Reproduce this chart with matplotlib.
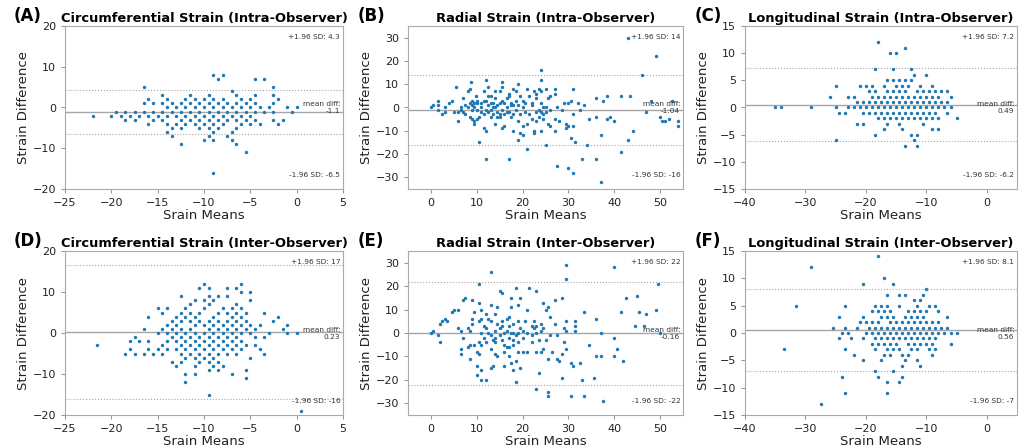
import numpy as np
import matplotlib.pyplot as plt

# each entry: (strain mean, [strain differences at that mean])
circ_intra_cols = [
    (-22, [-2]), (-20, [-2]), (-19.5, [-1]), (-19, [-2]), (-18.5, [-1, -3]),
    (-18, [-2]), (-17.5, [-1, -3]), (-17, [-2]), (-16.5, [5, 1, -1]),
    (-16, [2, -2, -4]), (-15.5, [1, -1, -3]), (-15, [-2]),
    (-14.5, [3, 1, -1, -3]), (-14, [2, 0, -2, -4, -6]), (-13.5, [1, -1, -5, -7]),
    (-13, [0, -2, -4]), (-12.5, [1, -1, -3, -5, -9]), (-12, [2, 0, -2, -4]),
    (-11.5, [3, 1, -1, -3]), (-11, [2, 0, -2, -4]), (-10.5, [1, -1, -3, -5]),
    (-10, [2, 0, -2, -4, -8]), (-9.5, [3, 1, -1, -3, -5, -7]),
    (-9, [8, 2, 0, -2, -4, -6, -8, -16]), (-8.5, [7, 1, -1, -3, -5]),
    (-8, [8, 2, 0, -2, -4]), (-7.5, [1, -1, -3, -7]), (-7, [4, 0, -2, -6, -8]),
    (-6.5, [3, 1, -1, -3, -5, -9]), (-6, [2, 0, -2, -4]), (-5.5, [1, -1, -3, -11]),
    (-5, [2, 0, -2, -4]), (-4.5, [7, 3, 1, -1, -3]), (-4, [0, -4]),
    (-3.5, [7, -1]), (-3, [0]), (-2.5, [5, 3, 1, -1, -3]), (-2, [2, -4]),
    (-1.5, [-3]), (-1, [0]), (-0.5, [-1]), (0, [0]),
]

rad_intra_cols = [
    (0, [0]), (0.5, [1]), (1.5, [3, 1, -1]), (2.5, [-3]), (3, [0, -2]), (4, [2]),
    (4.5, [3]), (5, [-2]), (5.5, [9]), (6, [-2, -6]), (6.5, [0, -1]), (7, [4, -2]),
    (7.5, [-3, 1]), (8, [7, 0]), (8.5, [8, -4, 2]), (8.8, [11]), (9, [3, 1, -1, -5]),
    (9.5, [-6, -7, 0, 2]), (9.8, [5]), (10, [2, -1, 3, -5]), (10.5, [-15, -4]),
    (11, [0, 2, -2]), (11.5, [-9, 7, -3, 3]), (12, [12, -10, -22, 3, -1]),
    (12.5, [9, -2, 1, 5]), (13, [5, -4, -1, 2]), (13.5, [2, -3, 0]),
    (14, [4, -7, 0, 7]), (14.5, [-2, 1, -4]), (15, [7, -3, -4, 2]),
    (15.5, [11, 9, -9, 3, -1]), (16, [-8, 2, -3]), (16.5, [4, 0, -2]),
    (17, [5, 6, -22, -2]), (17.5, [2, -4, 1]), (18, [8, -10, 1, -3]),
    (18.5, [3, -1, 7]), (19, [-6, 10, -14, 1]), (19.5, [5, -11, -3]),
    (20, [-12, -8, 3, 0]), (20.5, [2, -2]), (21, [-18, 8, -7]), (21.5, [-3, 5]),
    (22, [1, -5, 2]), (22.5, [7, -10, -11]), (23, [4, -2, -6, 6]), (23.5, [8, -1, -4]),
    (24, [16, 12, 7, -10, 2, -2]), (24.5, [-3, -5, 0]), (25, [8, -16, 0, -2]),
    (25.5, [4, -7]), (26, [5, -8, -1]), (27, [8, 6, -10, -5]), (27.5, [-25, 0]),
    (28, [-6]), (28.5, [-1]), (29, [2]), (29.5, [-7, -9]), (30, [-8, -26, 2]),
    (30.5, [-13, 3]), (31, [-28, -3, -8, 8]), (31.5, [-15]), (32, [2]), (32.5, [-1]),
    (33, [-22]), (33.5, [1]), (34, [-16]), (34.5, [-5]), (36, [4, -4, -22]),
    (37, [-32, -12]), (37.5, [3]), (38.5, [5, -5]), (39, [-4]), (40, [-6]),
    (41.5, [5, -19]), (43, [30, -14]), (43.5, [5]), (44, [-10]), (46, [14]),
    (47, [-2]), (48, [3]), (49, [22]), (50, [-4]), (50.5, [-6]), (51, [-6]),
    (52, [-5]), (52.5, [3]), (54, [-6, -8]),
]

long_intra_cols = [
    (-35, [0]), (-34, [0]), (-29, [0]), (-26, [2]), (-25, [4, 0, -6]), (-24.5, [-1]),
    (-23.5, [-1]), (-23, [2, 0]), (-22, [2, 0]), (-21.5, [1, -3]), (-21, [4, 0]),
    (-20.5, [1, -1, -3]), (-20, [4, 0]), (-19.5, [3, 1, -1]), (-19, [4, 2, 0]),
    (-18.5, [7, 3, 1, -1, -5]), (-18, [12, 2, 0, -2]), (-17.5, [1, -1]),
    (-17, [4, 2, 0, -2, -4]), (-16.5, [5, 3, 1, -1, -3]), (-16, [10, 2, 0, -2]),
    (-15.5, [7, 5, 3, 1, -1]), (-15, [10, 4, 2, 0, -2]), (-14.5, [5, 3, 1, -1, -3]),
    (-14, [4, 2, 0, -2, -4]), (-13.5, [11, 5, 3, 1, -1, -7]), (-13, [4, 2, 0, -2]),
    (-12.5, [7, 5, 1, -1, -5]), (-12, [6, 2, 0, -2, -6]), (-11.5, [3, 1, -1, -5, -7]),
    (-11, [4, 2, 0, -2]), (-10.5, [3, 1, -1, -3]), (-10, [6, 2, 0, -2]),
    (-9.5, [3, 1, -1]), (-9, [4, 2, 0, -2, -4]), (-8.5, [3, 1, -1]),
    (-8, [2, 0, -2, -4]), (-7.5, [3, 1]), (-7, [0]), (-6.5, [3, 1, -1]),
    (-6, [2, 0]), (-5, [-2]),
]

circ_inter_cols = [
    (-21.5, [-3]), (-18.5, [-5]), (-18, [-2, -4]), (-17.5, [-1, -5]), (-17, [-2]),
    (-16.5, [1, -5]), (-16, [4, -2, -4]), (-15.5, [-5]), (-15, [6, 0, -4]),
    (-14.5, [5, 1, -3, -5]), (-14, [6, 2, 0, -2, -4]), (-13.5, [3, 1, -1, -7]),
    (-13, [4, 2, 0, -2, -4, -8]), (-12.5, [9, 5, 3, 1, -1, -3, -5, -7]),
    (-12, [6, 4, 0, -2, -4, -6, -10, -12]), (-11.5, [7, 5, 3, 1, -1, -3, -5]),
    (-11, [8, 4, 2, 0, -2, -4, -6, -8, -10]), (-10.5, [11, 5, 3, -1, -3, -5, -7]),
    (-10, [12, 8, 6, 2, 0, -2, -4, -6]),
    (-9.5, [11, 9, 7, 3, 1, -1, -3, -5, -7, -9, -15]),
    (-9, [8, 4, 2, 0, -2, -4, -6, -8]), (-8.5, [9, 5, 3, 1, -1, -3, -5, -7, -9]),
    (-8, [6, 2, 0, -2, -4, -8]), (-7.5, [11, 9, 5, 3, 1, -1, -3, -5]),
    (-7, [6, 4, 2, 0, -2, -4, -10]), (-6.5, [11, 7, 5, 3, 1, -1, -3, -5]),
    (-6, [12, 10, 6, 4, 2, 0, -2, -4]), (-5.5, [5, 3, 1, -3, -9, -11]),
    (-5, [10, 8, 2, 0, -6]), (-4.5, [1, -1, -3]), (-4, [2, -4]), (-3.5, [5, -1, -5]),
    (-3, [0]), (-2.5, [3]), (-2, [4]), (-1.5, [1]), (-1, [2, 0]), (0, [0]), (0.5, [-19]),
]

rad_inter_cols = [
    (0, [0]), (0.5, [1]), (1.5, [-1]), (2, [-4, 4]), (2.5, [5]), (3, [6]), (3.5, [5]),
    (4.5, [9]), (5, [10]), (6, [10, 2]), (6.5, [1, -7, -9]), (7, [-2, 14]), (7.5, [15]),
    (8, [2, -6]), (8.5, [1, -5, -11]), (9, [14, 4, 6]), (9.5, [-5, 9]),
    (10, [-8, -14, -18]), (10.5, [13, 21, 5, -4, -9]), (11, [10, 6, 0, -5, -16, -20]),
    (11.5, [3, -2]), (12, [8, -4, -20, 2]), (12.5, [6, 0]),
    (13, [12, 26, -15, -7, -1, 5]), (13.5, [-3, -14]), (14, [1, 8, -4, -9, -2]),
    (14.5, [11, 4, -10]), (15, [-1, 18, 2]), (15.5, [17, 3, -3, 5]),
    (16, [-5, -14, 0, -8]), (16.5, [6, 1, -6]), (17, [7, -2, -10, 3, -6]),
    (17.5, [15, -13, 11, 0]), (18, [-16, -5, 4, -3, 0]), (18.5, [19, -1, -21, -12]),
    (19, [12, -8, 5, -4, 0]), (19.5, [15, -15, 2]), (20, [-8, -2, 1]), (20.5, [5]),
    (21, [10, 0, -8]), (21.5, [19]), (22, [-4, 3, -1]), (22.5, [2, 5]),
    (23, [18, -8, -24, 3, 0]), (23.5, [-17, -3]), (24, [-8, 1, 4]), (24.5, [13, -7, 2]),
    (25, [10, -3]), (25.5, [-25, -27, 11, -11]), (26, [7, -1]), (26.5, [-8]),
    (27, [14, 4]), (27.5, [-11, -1]), (28, [-12]), (28.5, [15, -9, -19]), (29, [-4, 2]),
    (29.5, [29, 23, 5, -7, 1]), (30.5, [-13, -27]), (31, [-14]), (31.5, [5, 3, 1]),
    (32.5, [-13]), (33, [-20]), (33.5, [9, -27]), (34.5, [-5]), (35.5, [-19]),
    (36, [6, -10]), (37, [0, -10]), (37.5, [-29]), (40, [28, -2, -10]), (40.5, [-7]),
    (41.5, [9]), (42, [-12]), (42.5, [15]), (44.5, [3]), (45, [16]), (45.5, [9]),
    (46.5, [3]), (47, [8]), (49, [10]), (49.5, [21]), (50, [0]),
]

long_inter_cols = [
    (-33.5, [-3]), (-31.5, [5]), (-29, [12]), (-27.5, [-13]), (-25.5, [1]),
    (-24.5, [3, -1]), (-24, [0, -8]), (-23.5, [5, 1, -3, -11]), (-23, [0]),
    (-22.5, [-1]), (-22, [-4]), (-21.5, [1]), (-21, [2]), (-20.5, [9, 3, -1, -5]),
    (-20, [2, 0]), (-19.5, [1]), (-19, [4, 2, 0, -2]), (-18.5, [5, 1, -1, -3, -7]),
    (-18, [14, 4, 2, 0, -2, -8]), (-17.5, [5, 3, 1, -1, -5]), (-17, [10, 4, 0, -2, -4]),
    (-16.5, [7, 5, 3, 1, -1, -3, -9, -11]), (-16, [4, 2, 0, -2, -4]),
    (-15.5, [9, 3, 1, -1, -3, -7]), (-15, [2, 0, -2]), (-14.5, [7, 5, 1, -1, -3, -9]),
    (-14, [2, 0, -4, -6, -8]), (-13.5, [7, 3, 1, -1, -5]), (-13, [4, 2, 0, -2, -4]),
    (-12.5, [3, 1, -1, -3]), (-12, [6, 4, 2, 0, -2]), (-11.5, [5, 3, 1, -1, -3, -5]),
    (-11, [6, 4, 2, 0, -2, -6]), (-10.5, [7, 3, 1, -1]), (-10, [8, 4, 2, 0, -2]),
    (-9.5, [5, 1, -1, -3]), (-9, [2, 0, -2, -4]), (-8.5, [5, 1, -1, -3]),
    (-8, [4, 2, 0]), (-7.5, [1]), (-7, [0]), (-6.5, [3, 1]), (-6, [0, -2]), (-5, [0]),
]

titles = ['Circumferential Strain (Intra-Observer)', 'Radial Strain (Intra-Observer)',
          'Longitudinal Strain (Intra-Observer)', 'Circumferential Strain (Inter-Observer)',
          'Radial Strain (Inter-Observer)', 'Longitudinal Strain (Inter-Observer)']
letters = ['(A)', '(B)', '(C)', '(D)', '(E)', '(F)']
mean_diffs = [-1.1, -1.04, 0.49, 0.23, -0.16, 0.56]
upper_limits = [4.3, 14.1, 7.2, 16.6, 21.8, 8.1]
lower_limits = [-6.5, -16.1, -6.2, -16.1, -22.1, -7.0]
x_limits = [(-25, 5), (-5, 55), (-40, 5)] * 2
y_limits = [(-20, 20), (-35, 35), (-15, 15)] * 2
x_ticks = [np.arange(-25, 6, 5), np.arange(0, 51, 10), np.arange(-40, 1, 10)] * 2
y_ticks = [np.arange(-20, 21, 10), np.arange(-30, 31, 10), np.arange(-15, 16, 5)] * 2
all_cols = [circ_intra_cols, rad_intra_cols, long_intra_cols,
            circ_inter_cols, rad_inter_cols, long_inter_cols]


def expand(cols):
    means, diffs = [], []
    for m, ds in cols:
        for d in ds:
            means.append(m)
            diffs.append(d)
    return np.array(means), np.array(diffs)


W, H = 1026, 448
fig = plt.figure(figsize=(W / 100, H / 100), dpi=100)

# axes boxes in pixels: left, right, top, bottom
col_px = [(65, 343), (408, 683), (745, 1017)]
row_px = [(26, 189), (251, 415)]

for i in range(6):
    (l, r), (t, b) = col_px[i % 3], row_px[i // 3]
    ax = fig.add_axes([l / W, 1 - b / H, (r - l) / W, (b - t) / H])
    means, diffs = expand(all_cols[i])
    ax.scatter(means, diffs, s=6, color='#1f77b4', linewidths=0, zorder=3)
    ax.axhline(mean_diffs[i], color='#a6a6a6', lw=1)
    ax.axhline(upper_limits[i], color='#a6a6a6', lw=0.8, ls=':')
    ax.axhline(lower_limits[i], color='#a6a6a6', lw=0.8, ls=':')
    ax.annotate('mean diff:\n{}'.format(np.round(mean_diffs[i], 2)), xy=(0.99, 0.5),
                xycoords='axes fraction', ha='right', va='center', fontsize=5.3, color='#333333')
    ax.annotate(f'-1.96 SD: {lower_limits[i]:0.2g}', xy=(0.99, 0.07),
                xycoords='axes fraction', ha='right', va='bottom', fontsize=5.3, color='#333333')
    ax.annotate(f'+1.96 SD: {upper_limits[i]:0.2g}', xy=(0.99, 0.92),
                xycoords='axes fraction', ha='right', fontsize=5.3, color='#333333')
    ax.set_xlim(*x_limits[i])
    ax.set_ylim(*y_limits[i])
    ax.set_xticks(x_ticks[i])
    ax.set_yticks(y_ticks[i])
    ax.tick_params(labelsize=8, color='#999999', labelcolor='#222222', length=3)
    for sp in ax.spines.values():
        sp.set_color('#aaaaaa')
    ax.set_xlabel('Srain Means', fontsize=9.5, labelpad=1, color='#222222')
    ax.set_ylabel('Strain Difference', fontsize=9.5, labelpad=2, color='#222222')
    ax.set_title(titles[i], fontsize=9.4, fontweight='bold', pad=3)
    fig.text((l - 37) / W, 1 - (t - 10) / H, letters[i], fontsize=12, fontweight='bold',
             ha='center', va='center')

fig.savefig('out.png', dpi=100, facecolor='white')
